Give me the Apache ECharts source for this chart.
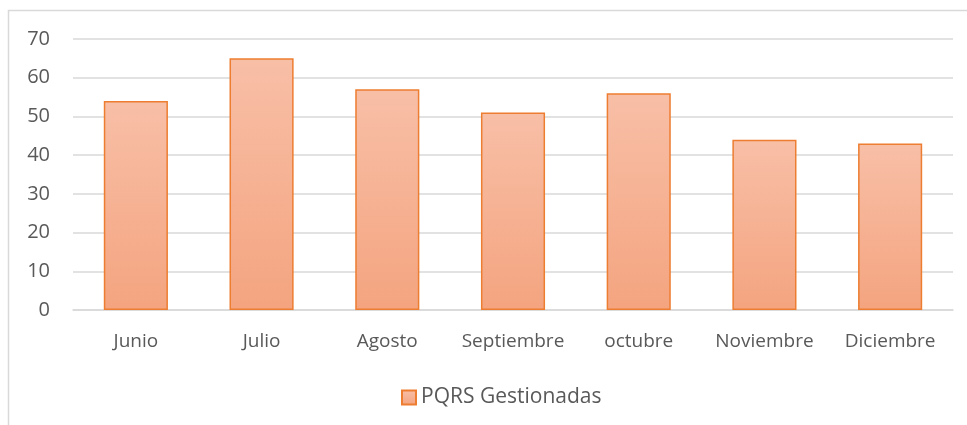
<!DOCTYPE html>
<html>
<head>
<meta charset="utf-8">
<script src="https://cdn.jsdelivr.net/npm/echarts@6/dist/echarts.min.js"></script>
<style>
  html, body { margin: 0; padding: 0; background: #fff; }
  #chart { width: 967px; height: 425px; }
</style>
</head>
<body>
<div id="chart"></div>
<script>
var months = ['Junio', 'Julio', 'Agosto', 'Septiembre', 'octubre', 'Noviembre', 'Diciembre'];
var gestionadas = [54, 65, 57, 51, 56, 44, 43];
var seriesName = 'PQRS Gestionadas';

var chart = echarts.init(document.getElementById('chart'));

var barFill = new echarts.graphic.LinearGradient(0, 0, 0, 1, [
    { offset: 0, color: '#F8BFA7' },
    { offset: 1, color: '#F4A47F' }
]);

var option = {
    animation: false,
    textStyle: { fontFamily: 'Open Sans' },
    graphic: [{
        type: 'rect',
        shape: { x: 8.5, y: 10.5, width: 1000, height: 500 },
        style: { fill: 'none', stroke: '#d9d9d9', lineWidth: 1.5 },
        silent: true
    }],
    grid: { left: 73, right: 14, top: 39, bottom: 115 },
    legend: {
        top: 382,
        left: 396,
        itemWidth: 14,
        itemHeight: 14,
        itemGap: 5,
        textStyle: { color: '#595959', fontSize: 21, fontFamily: 'Open Sans' },
        data: [{ name: seriesName, icon: 'rect' }]
    },
    xAxis: {
        type: 'category',
        data: months,
        axisLine: { lineStyle: { color: '#d9d9d9', width: 1.5 } },
        axisTick: { show: false },
        axisLabel: { color: '#595959', fontSize: 19, margin: 22, interval: 0, hideOverlap: false }
    },
    yAxis: {
        type: 'value',
        min: 0,
        max: 70,
        interval: 10,
        axisLine: { show: false },
        axisTick: { show: false },
        axisLabel: { color: '#595959', fontSize: 20, margin: 23 },
        splitLine: { lineStyle: { color: '#d9d9d9', width: 1.5 } }
    },
    series: [{
        name: seriesName,
        type: 'bar',
        data: gestionadas,
        barCategoryGap: '49%',
        itemStyle: {
            color: barFill,
            borderColor: '#ED7D31',
            borderWidth: 1.5
        }
    }]
};
chart.setOption(option);
</script>
</body>
</html>
